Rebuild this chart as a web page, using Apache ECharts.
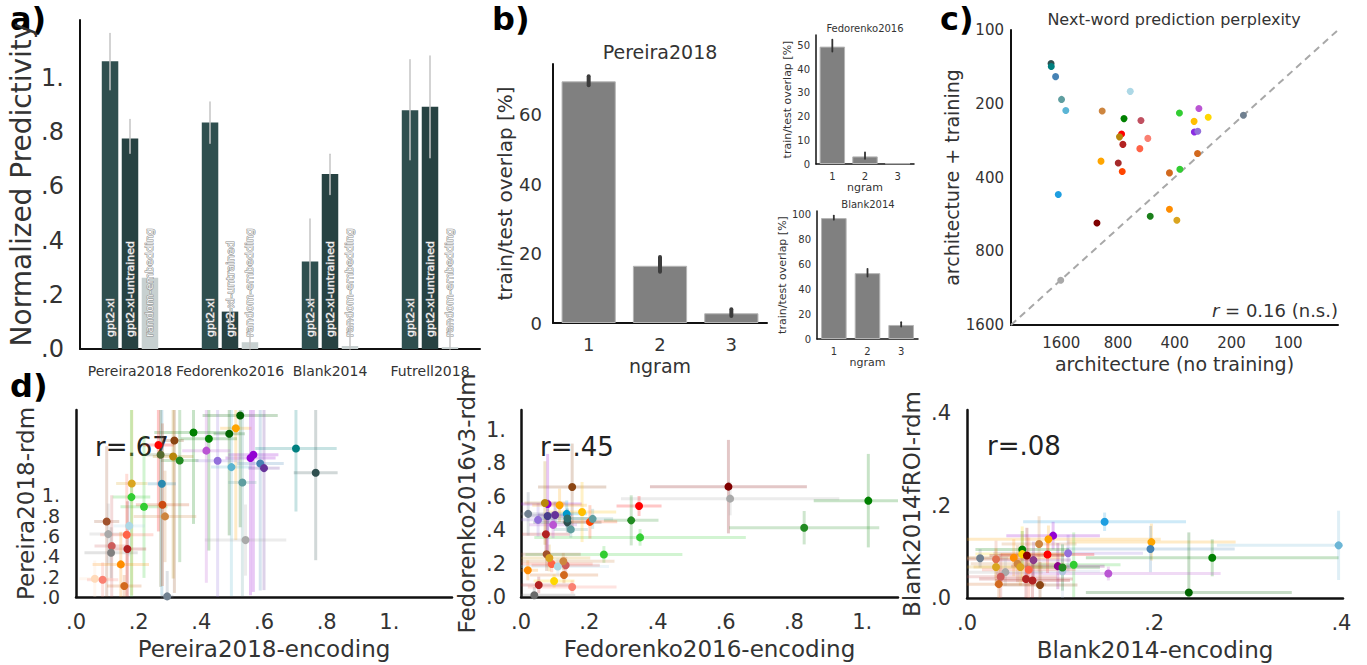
<!DOCTYPE html>
<html><head><meta charset="utf-8">
<script src="https://cdn.jsdelivr.net/npm/echarts@6/dist/echarts.min.js"></script>
<style>html,body{margin:0;padding:0;background:#fff}#chart{width:1367px;height:665px}</style>
</head><body><div id="chart"></div>
<script>
const FONT = 'DejaVu Sans';

// ---------- Panel a data ----------
const aCategories = ['Pereira2018', 'Fedorenko2016', 'Blank2014', 'Futrell2018'];
const aModels = ['gpt2-xl', 'gpt2-xl-untrained', 'random-embedding'];
const aGpt2xl = [1.062, 0.836, 0.323, 0.881];
const aGpt2xlLow = [0.957, 0.759, 0.17, 0.698];
const aGpt2xlHigh = [1.164, 0.911, 0.48, 1.067];
const aUntrained = [0.777, 0.138, 0.646, 0.894];
const aUntrainedLow = [0.722, 0.09, 0.570, 0.706];
const aUntrainedHigh = [0.847, 0.18, 0.719, 1.081];
const aRandom = [0.263, 0.025, 0.011, 0.007];
const aRandomLow = [0.263, 0.0, 0.0, 0.0];
const aRandomHigh = [0.263, 0.06, 0.12, 0.107];
const aTicks = [0, 0.2, 0.4, 0.6, 0.8, 1.0];

// ---------- Panel b data ----------
const ngrams = ['1', '2', '3'];
const bPereira = [69.7, 16.5, 2.8];
const bPereiraLow = [68.6, 14.8, 2.0];
const bPereiraHigh = [71.2, 19.0, 4.0];
const bPereiraTicks = [0, 20, 40, 60];
const bFedorenko = [49.5, 3.2, 0.3];
const bFedorenkoLow = [47.4, 2.2, 0.3];
const bFedorenkoHigh = [52.4, 4.9, 0.3];
const bFedorenkoTicks = [0, 10, 20, 30, 40, 50];
const bBlank = [97.3, 53.0, 11.3];
const bBlankLow = [96.0, 50.2, 10.0];
const bBlankHigh = [99.3, 56.5, 13.5];
const bBlankTicks = [0, 20, 40, 60, 80, 100];

// ---------- Panel c data (perplexity) ----------
const cNoTraining = [1813, 1808, 1715, 1595, 1514, 689, 971, 744, 605, 378, 298, 316, 266, 173, 766, 786, 754, 556, 613, 315, 302, 303, 985, 798, 760, 427, 376, 1660, 1035, 540, 427, 390, 1611];
const cTraining = [137, 141, 155, 192, 213, 178, 214, 230, 234, 218, 209, 236, 227, 223, 266, 273, 293, 277, 305, 261, 259, 319, 343, 349, 378, 383, 370, 469, 613, 576, 539, 598, 1050];
const cColors = ['#2f4f4f', '#008080', '#4682b4', '#5f9ea0', '#5bb5d5', '#add8e6', '#cd853f', '#008000', '#c05060', '#32cd32', '#ba55d3', '#ffbf00', '#ffd700', '#708090', '#ff0000', '#b8860b', '#b22222', '#fa8072', '#ff6347', '#8a2be2', '#9370db', '#d2691e', '#ffa500', '#a52a2a', '#ff4500', '#d2691e', '#32cd32', '#1e9ee0', '#800000', '#1a7f1a', '#ff8c00', '#daa520', '#a9a9a9'];
const cTicks = [100, 200, 400, 800, 1600];
const cRange = [54.5, 2957];

// ---------- Panel d data ----------
const d1X = [.524, .510, .375, .424, .489, .314, .263, .27, .31, .331, .416, .452, .557, .566, .588, .60, .496, .702, .765, .531, .541, .178, .274, .177, .217, .276, .284, .098, .17, .103, .162, .114, .164, .112, .143, .06, .085, .154, .291];
const d1Y = [1.786, 1.66, 1.619, 1.557, 1.606, 1.54, 1.495, 1.40, 1.382, 1.343, 1.44, 1.34, 1.367, 1.40, 1.314, 1.268, 1.278, 1.461, 1.222, 1.127, .56, 1.117, 1.114, .983, .888, .908, .793, .743, .70, .619, .612, .501, .472, .436, .321, .18, .17, .108, .006];
const d1XErr = [.12, .05, .125, .09, .05, .03, .05, .05, .065, .06, .077, .07, .08, .08, .075, .05, .065, .13, .07, .045, .13, .05, .045, .06, .075, .085, .1, .04, .05, .06, .085, .055, .06, .085, .09, .05, .05, .055, .02];
const d1YErr = [1.1, 1.1, .9, 1.1, 1.0, 1.5, .85, 1.3, 1.2, 1.0, 1.3, 1.34, 1.35, 1.35, 1.25, 1.2, 1.27, .62, .86, 1.12, .35, 1.1, 1.1, .98, .7, .8, .45, .74, .3, .3, .6, .5, .47, .25, .32, .18, .17, .108, .25];
const d1Colors = ['#006400', '#ffa500', '#008000', '#008000', '#006400', '#8b4513', '#ff0000', '#556b2f', '#b8860b', '#228b22', '#ba55d3', '#9370db', '#9400d3', '#9400d3', '#4682b4', '#663399', '#5ab4cf', '#008080', '#2f4f4f', '#5f9ea0', '#a9a9a9', '#daa520', '#2a8ab0', '#32cd32', '#32cd32', '#cc4a10', '#cd853f', '#a0522d', '#add8e6', '#a9a9a9', '#ff6347', '#cd5c5c', '#b22222', '#808080', '#ff8c00', '#ffdab9', '#fa8072', '#d2691e', '#708090'];
const d1XTicks = [0, 0.2, 0.4, 0.6, 0.8, 1.0];
const d1YTicks = [0, 0.2, 0.4, 0.6, 0.8, 1.0];

const d2X = [.150, .608, .613, 1.018, .83, .346, .323, .349, .243, .02, .052, .039, .097, .15, .126, .09, .108, .131, .124, .075, .083, .073, .021, .05, .078, .10, .094, .078, .07, .113, .134, .136, .136, .146, .179, .202, .21];
const d2Y = [.659, .661, .589, .577, .415, .545, .459, .357, .255, .16, .072, .01, .096, .06, .132, .198, .183, .19, .214, .256, .234, .376, .498, .462, .485, .491, .432, .557, .563, .549, .498, .447, .47, .405, .509, .45, .468];
const d2XErr = [.10, .23, .32, .16, .22, .066, .08, .31, .23, .03, .1, .12, .06, .13, .1, .12, .15, .1, .15, .1, .12, .07, .05, .05, .06, .05, .07, .1, .06, .08, .06, .1, .08, .05, .1, .08, .06];
const d2YErr = [.26, .28, .1, .28, .1, .06, .15, .05, .05, .06, .05, .05, .04, .04, .05, .05, .05, .05, .05, .1, .08, .12, .13, .1, .1, .08, .08, .3, .25, .1, .08, .06, .06, .05, .18, .1, .06];
const d2Colors = ['#8b4513', '#800000', '#a9a9a9', '#008000', '#228b22', '#ff0000', '#228b22', '#32cd32', '#32cd32', '#ff8c00', '#b22222', '#696969', '#ffd700', '#fa8072', '#d2691e', '#ff6347', '#add8e6', '#cd5c5c', '#cd853f', '#a0522d', '#daa520', '#b22222', '#708090', '#9370db', '#483d8b', '#663399', '#ba55d3', '#9400d3', '#b8860b', '#ffa500', '#0099cc', '#2f4f4f', '#2f6f6f', '#5f9ea0', '#ffbf00', '#ff4500', '#5f9ea0'];
const d2XTicks = [0, 0.2, 0.4, 0.6, 0.8, 1.0];
const d2YTicks = [0, 0.2, 0.4, 0.6, 0.8, 1.0];

const d3X = [.147, .397, .197, .196, .262, .237, .151, .108, .114, .092, .087, .077, .086, .097, .102, .102, .059, .059, .064, .071, .05, .054, .057, .066, .014, .031, .031, .041, .036, .034, .063, .07, .078];
const d3Y = [.165, .114, .121, .106, .087, .012, .053, .097, .072, .135, .127, .117, .094, .069, .058, .066, .105, .095, .092, .082, .087, .074, .067, .061, .086, .084, .067, .056, .046, .03, .041, .038, .028];
const d3XErr = [.087, .13, .09, .09, .135, .11, .12, .08, .05, .05, .12, .04, .05, .05, .04, .04, .05, .05, .04, .04, .05, .05, .05, .05, .03, .04, .05, .04, .06, .05, .05, .04, .04];
const d3YErr = [.02, .075, .04, .05, .04, .13, .015, .04, .07, .03, .03, .06, .04, .05, .06, .05, .04, .06, .06, .04, .04, .04, .04, .07, .02, .04, .04, .03, .05, .04, .05, .05, .05];
const d3Colors = ['#1e9ee0', '#6cb6d6', '#ffa500', '#4682b4', '#008000', '#006400', '#ba55d3', '#9370db', '#32cd32', '#9400d3', '#ffa500', '#cd853f', '#ff0000', '#8b008b', '#b0c4de', '#228b22', '#008000', '#ffd700', '#8b0000', '#8b3a8b', '#ff8c00', '#cd853f', '#daa520', '#ff6347', '#708090', '#e07050', '#daa520', '#a9a9a9', '#cd5c5c', '#d2691e', '#b22222', '#b22222', '#8b4513'];
const d3XTicks = [0, 0.2, 0.4];
const d3YTicks = [0, 0.2, 0.4];

// ---------- helpers ----------
const log2r = v => Math.log2(v / 100);
const fmtDot = v => { let s = Number(v).toFixed(1); if (s === '1.0') return '1.'; if (s.startsWith('0')) s = s.slice(1); return s; };

function axis(type, gi, o) {
  const ax = {
    type: type, gridIndex: gi,
    splitLine: {show: false},
    axisTick: {show: false},
    axisLine: {show: true, onZero: false, lineStyle: {color: '#111', width: o.lw || 2}},
    axisLabel: {fontFamily: FONT, color: '#333', fontSize: o.fs, margin: o.margin,
      hideOverlap: false, showMinLabel: true, showMaxLabel: true},
  };
  if (o.data) { ax.data = o.data; ax.axisLabel.interval = 0; }
  if (o.min !== undefined) { ax.min = o.min; ax.max = o.max; }
  if (o.inverse) ax.inverse = true;
  if (o.ticks) { ax.axisLabel.customValues = o.ticks; ax.axisTick.customValues = o.ticks; }
  if (o.fmt) ax.axisLabel.formatter = o.fmt;
  if (o.name) {
    ax.name = o.name; ax.nameLocation = 'middle'; ax.nameGap = o.gap;
    ax.nameTextStyle = {fontFamily: FONT, color: '#333', fontSize: o.nfs};
    if (type === 'value' && o.vertical) ax.nameRotate = 90;
  }
  return ax;
}

function barErr(gi, lows, highs, off, color, width) {
  return {
    type: 'custom', xAxisIndex: gi, yAxisIndex: gi, silent: true, z: 5,
    data: lows.map((l, i) => [i, l, highs[i]]),
    renderItem: (params, api) => {
      const p1 = api.coord([api.value(0), api.value(1)]);
      const p2 = api.coord([api.value(0), api.value(2)]);
      return {type: 'line', shape: {x1: p1[0] + off, y1: p1[1], x2: p2[0] + off, y2: p2[1]},
        style: {stroke: color, lineWidth: width, lineCap: 'round'}};
    }
  };
}

function crosses(gi, xs, ys, xe, ye, colors, xr, yr) {
  return {
    type: 'custom', xAxisIndex: gi, yAxisIndex: gi, silent: true, z: 2,
    data: xs.map((x, i) => [x, ys[i], xe[i], ye[i]]),
    renderItem: (params, api) => {
      const x = api.value(0), y = api.value(1), ex = api.value(2), ey = api.value(3);
      const cl = (v, r) => Math.max(r[0], Math.min(r[1], v));
      const a1 = api.coord([cl(x - ex, xr), y]), a2 = api.coord([cl(x + ex, xr), y]);
      const b1 = api.coord([x, cl(y - ey, yr)]), b2 = api.coord([x, cl(y + ey, yr)]);
      const c = colors[params.dataIndex];
      return {type: 'group', children: [
        {type: 'line', shape: {x1: a1[0], y1: a1[1], x2: a2[0], y2: a2[1]}, style: {stroke: c, lineWidth: 3, opacity: 0.22}},
        {type: 'line', shape: {x1: b1[0], y1: b1[1], x2: b2[0], y2: b2[1]}, style: {stroke: c, lineWidth: 3, opacity: 0.22}}
      ]};
    }
  };
}

function dots(gi, xs, ys, colors, size) {
  return {
    type: 'scatter', xAxisIndex: gi, yAxisIndex: gi, symbolSize: size, z: 4,
    data: xs.map((x, i) => ({value: [x, ys[i]], itemStyle: {color: colors[i], opacity: 1}}))
  };
}

const barLabel = name => ({
  show: true, position: 'insideBottom', rotate: 90, align: 'left', verticalAlign: 'middle',
  distance: 12, formatter: name, fontFamily: FONT, fontSize: 11,
  color: '#f4f4f4', textBorderColor: '#8c8c8c', textBorderWidth: 1
});

const aColors = ['#2f4f4f', '#274242', '#c7d0d0'];
const aSeriesVals = [aGpt2xl, aUntrained, aRandom];
const aLows = [aGpt2xlLow, aUntrainedLow, aRandomLow];
const aHighs = [aGpt2xlHigh, aUntrainedHigh, aRandomHigh];

const D1R = {x: [0, 1.2], y: [0, 1.84]};
const D2R = {x: [0, 1.105], y: [0, 1.12]};
const D3R = {x: [0, 0.4017], y: [0, 0.407]};

const series = [];
aModels.forEach((m, k) => {
  series.push({type: 'bar', xAxisIndex: 0, yAxisIndex: 0, name: m, data: aSeriesVals[k],
    barWidth: 16.5, barGap: '21%', itemStyle: {color: aColors[k]}, label: barLabel(m), z: 3});
});
aModels.forEach((m, k) => {
  series.push(barErr(0, aLows[k], aHighs[k], (k - 1) * 20, '#c4c4c4', 1.5));
});
const bBar = (gi, vals, w) => ({type: 'bar', xAxisIndex: gi, yAxisIndex: gi, data: vals, barWidth: w,
  itemStyle: {color: '#808080', borderColor: '#b5b5b5', borderWidth: 1}});
series.push(bBar(1, bPereira, '76%'));
series.push(barErr(1, bPereiraLow, bPereiraHigh, 0, '#3c3c3c', 4));
series.push(bBar(2, bFedorenko, '78%'));
series.push(barErr(2, bFedorenkoLow, bFedorenkoHigh, 0, '#333', 1.8));
series.push(bBar(3, bBlank, '76%'));
series.push(barErr(3, bBlankLow, bBlankHigh, 0, '#333', 1.8));

// panel c
const cxr = [log2r(cRange[0]), log2r(cRange[1])];
series.push({type: 'line', xAxisIndex: 4, yAxisIndex: 4, symbol: 'none', silent: true, z: 1,
  data: [[cxr[1], log2r(1600)], [cxr[0], log2r(100)]],
  lineStyle: {color: '#a8a8a8', width: 2, type: [7, 5]}});
series.push(dots(4, cNoTraining.map(log2r), cTraining.map(log2r), cColors, 7));

// panel d
series.push(crosses(5, d1X, d1Y, d1XErr, d1YErr, d1Colors, D1R.x, D1R.y));
series.push(dots(5, d1X, d1Y, d1Colors, 8));
series.push(crosses(6, d2X, d2Y, d2XErr, d2YErr, d2Colors, D2R.x, D2R.y));
series.push(dots(6, d2X, d2Y, d2Colors, 8));
series.push(crosses(7, d3X, d3Y, d3XErr, d3YErr, d3Colors, D3R.x, D3R.y));
series.push(dots(7, d3X, d3Y, d3Colors, 8));

const pow2fmt = v => String(Math.round(100 * Math.pow(2, v)));

const option = {
  animation: false,
  backgroundColor: '#fff',
  grid: [
    {left: 80, top: 20, width: 400, height: 329},
    {left: 553, top: 64, width: 214, height: 259},
    {left: 816, top: 35, width: 98, height: 129},
    {left: 817, top: 211, width: 101, height: 128},
    {left: 1011, top: 30, width: 327, height: 295},
    {left: 76, top: 410, width: 376, height: 187},
    {left: 521, top: 410, width: 377, height: 187},
    {left: 967, top: 410, width: 376, height: 188}
  ],
  xAxis: [
    axis('category', 0, {data: aCategories, fs: 14, margin: 15}),
    axis('category', 1, {data: ngrams, fs: 18, margin: 12, name: 'ngram', gap: 33, nfs: 19}),
    axis('category', 2, {data: ngrams, fs: 10, margin: 7, name: 'ngram', gap: 17, nfs: 11, lw: 1.5}),
    axis('category', 3, {data: ngrams, fs: 10, margin: 7, name: 'ngram', gap: 17, nfs: 11, lw: 1.5}),
    axis('value', 4, {min: cxr[0], max: cxr[1], inverse: true, ticks: cTicks.map(log2r), fmt: pow2fmt, fs: 15, margin: 10, name: 'architecture (no training)', gap: 29, nfs: 19}),
    axis('value', 5, {min: D1R.x[0], max: D1R.x[1], ticks: d1XTicks, fmt: fmtDot, fs: 21, margin: 14, name: 'Pereira2018-encoding', gap: 40, nfs: 23, lw: 2.5}),
    axis('value', 6, {min: D2R.x[0], max: D2R.x[1], ticks: d2XTicks, fmt: fmtDot, fs: 21, margin: 14, name: 'Fedorenko2016-encoding', gap: 40, nfs: 23, lw: 2.5}),
    axis('value', 7, {min: D3R.x[0], max: D3R.x[1], ticks: d3XTicks, fmt: fmtDot, fs: 21, margin: 14, name: 'Blank2014-encoding', gap: 40, nfs: 23, lw: 2.5})
  ],
  yAxis: [
    axis('value', 0, {min: 0, max: 1.214, ticks: aTicks, fmt: fmtDot, fs: 24, margin: 16, name: 'Normalized Predictivity', gap: 45, nfs: 28, vertical: true}),
    axis('value', 1, {min: 0, max: 74.7, ticks: bPereiraTicks, fs: 18, margin: 11, name: 'train/test overlap [%]', gap: 38, nfs: 20, vertical: true}),
    axis('value', 2, {min: 0, max: 54.4, ticks: bFedorenkoTicks, fs: 10, margin: 6, name: 'train/test overlap [%]', gap: 19, nfs: 11, vertical: true, lw: 1.5}),
    axis('value', 3, {min: 0, max: 103, ticks: bBlankTicks, fs: 10, margin: 6, name: 'train/test overlap [%]', gap: 23, nfs: 11, vertical: true, lw: 1.5}),
    axis('value', 4, {min: 0, max: 4, inverse: true, ticks: cTicks.map(log2r), fmt: pow2fmt, fs: 15, margin: 7, name: 'architecture + training', gap: 33, nfs: 19, vertical: true}),
    axis('value', 5, {min: D1R.y[0], max: D1R.y[1], ticks: d1YTicks, fmt: fmtDot, fs: 19, margin: 16, name: 'Pereira2018-rdm', gap: 39, nfs: 23, vertical: true, lw: 2.5}),
    axis('value', 6, {min: D2R.y[0], max: D2R.y[1], ticks: d2YTicks, fmt: fmtDot, fs: 21, margin: 15, name: 'Fedorenko2016v3-rdm', gap: 43, nfs: 23, vertical: true, lw: 2.5}),
    axis('value', 7, {min: D3R.y[0], max: D3R.y[1], ticks: d3YTicks, fmt: fmtDot, fs: 21, margin: 16, name: 'Blank2014fROI-rdm', gap: 44, nfs: 23, vertical: true, lw: 2.5})
  ],
  graphic: [
    {type: 'text', left: 10, top: 3, style: {text: 'a)', font: 'bold 32px "DejaVu Sans"', fill: '#000'}},
    {type: 'text', left: 492, top: 3, style: {text: 'b)', font: 'bold 32px "DejaVu Sans"', fill: '#000'}},
    {type: 'text', left: 940, top: 3, style: {text: 'c)', font: 'bold 32px "DejaVu Sans"', fill: '#000'}},
    {type: 'text', left: 10, top: 370, style: {text: 'd)', font: 'bold 32px "DejaVu Sans"', fill: '#000'}},
    {type: 'text', x: 660, y: 52, style: {text: 'Pereira2018', font: '19px "DejaVu Sans"', fill: '#333', align: 'center', verticalAlign: 'middle'}},
    {type: 'text', x: 865, y: 28, style: {text: 'Fedorenko2016', font: '10px "DejaVu Sans"', fill: '#333', align: 'center', verticalAlign: 'middle'}},
    {type: 'text', x: 868, y: 204, style: {text: 'Blank2014', font: '10px "DejaVu Sans"', fill: '#333', align: 'center', verticalAlign: 'middle'}},
    {type: 'text', x: 1174, y: 19, style: {text: 'Next-word prediction perplexity', font: '16px "DejaVu Sans"', fill: '#333', align: 'center', verticalAlign: 'middle'}},
    {type: 'text', x: 1338, y: 310, style: {text: '{i|r} = 0.16 (n.s.)', font: '18px "DejaVu Sans"', fill: '#333', align: 'right', verticalAlign: 'middle',
      rich: {i: {fontStyle: 'italic', fontFamily: FONT, fontSize: 18, fill: '#333'}}}},
    {type: 'text', x: 95, y: 447, style: {text: 'r=.67', font: '26px "DejaVu Sans"', fill: '#222', align: 'left', verticalAlign: 'middle'}},
    {type: 'text', x: 540, y: 447, style: {text: 'r=.45', font: '26px "DejaVu Sans"', fill: '#222', align: 'left', verticalAlign: 'middle'}},
    {type: 'text', x: 987, y: 446, style: {text: 'r=.08', font: '26px "DejaVu Sans"', fill: '#222', align: 'left', verticalAlign: 'middle'}}
  ],
  series: series
};

const chart = echarts.init(document.getElementById('chart'), null, {renderer: 'svg'});
chart.setOption(option);
</script>
</body></html>
